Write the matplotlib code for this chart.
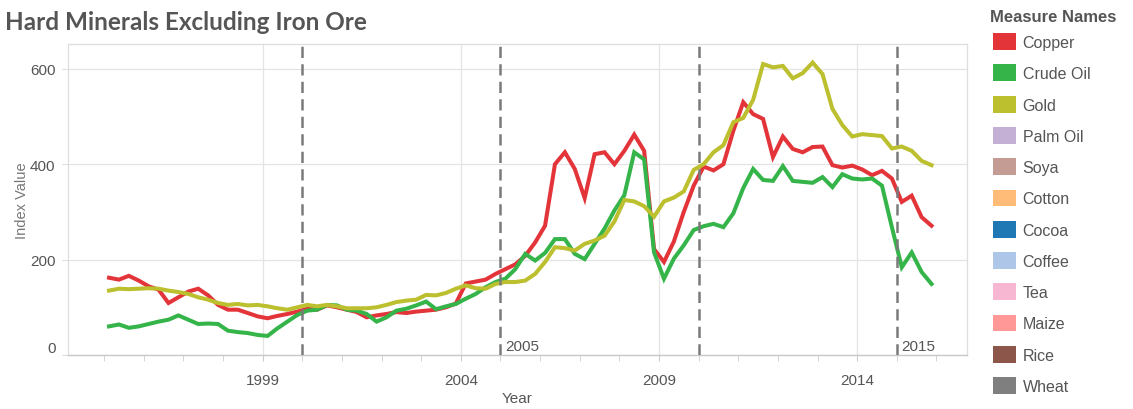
import numpy as np
import matplotlib
matplotlib.use("Agg")
import matplotlib.pyplot as plt
from matplotlib.patches import Patch

# ---------------- data (quarterly index values) ----------------
copper = [162, 158, 166, 156, 144, 137, 109, 121, 133, 139, 125, 105, 95, 95, 88, 81,
          77, 82, 86, 91, 97, 95, 104, 100, 95, 90, 79, 83, 86, 90, 88, 91,
          93, 95, 100, 108, 150, 154, 158, 170, 180, 190, 208, 236, 271, 400, 425, 390,
          329, 421, 425, 400, 428, 462, 428, 222, 195, 238, 300, 355, 395, 387, 400, 470,
          530, 505, 495, 415, 458, 432, 425, 436, 437, 398, 393, 397, 389, 377, 386, 370,
          321, 334, 289, 271]
crude_oil = [60, 64, 57, 60, 65, 70, 74, 83, 74, 65, 66, 65, 51, 48, 46, 42,
             40, 56, 70, 84, 93, 95, 105, 104, 95, 93, 86, 70, 79, 93, 97, 104,
             112, 96, 102, 107, 118, 128, 142, 153, 160, 180, 212, 198, 214, 243, 243, 212,
             201, 233, 265, 303, 335, 425, 410, 215, 160, 202, 230, 262, 270, 275, 268, 297,
             350, 390, 367, 365, 396, 365, 363, 361, 373, 352, 379, 370, 368, 370, 355, 268,
             184, 215, 174, 149]
gold = [135, 139, 138, 139, 140, 139, 135, 132, 128, 121, 116, 109, 105, 107, 104, 105,
        102, 98, 95, 100, 105, 102, 105, 102, 98, 98, 98, 100, 105, 111, 114, 116,
        126, 125, 130, 139, 146, 140, 139, 149, 153, 153, 156, 170, 195, 226, 224, 219,
        233, 240, 250, 280, 325, 322, 312, 290, 322, 330, 343, 388, 400, 425, 440, 488,
        497, 535, 610, 603, 606, 580, 591, 613, 589, 516, 482, 458, 463, 461, 459, 433,
        437, 428, 407, 398]
first_quarter = 1995.125
quarter_step = 0.25

legend_names = ["Copper", "Crude Oil", "Gold", "Palm Oil", "Soya", "Cotton",
                "Cocoa", "Coffee", "Tea", "Maize", "Rice", "Wheat"]
legend_colors = ["#e3343a", "#35b44a", "#bcbf2e", "#c5b0d5", "#c49c94", "#ffbb78",
                 "#1f77b4", "#aec7e8", "#f7b6d2", "#ff9896", "#8c564b", "#7f7f7f"]

x_tick_years = [1999, 2004, 2009, 2014]
minor_years = list(range(1995, 2017))
y_ticks = [0, 200, 400, 600]
marker_years = [2000, 2005, 2010, 2015]
marker_labels = ["", "2005", "", "2015"]

# ---------------- figure ----------------
W, H = 1133, 410
fig = plt.figure(figsize=(W / 100, H / 100), dpi=100)
ax = fig.add_axes([68 / W, 1 - 356 / H, (967 - 68) / W, (356 - 45) / H])

t = first_quarter + quarter_step * np.arange(len(copper))
series = [("Copper", copper, legend_colors[0]),
          ("Crude Oil", crude_oil, legend_colors[1]),
          ("Gold", gold, legend_colors[2])]
for name, vals, col in series:
    ax.plot(t, vals, color=col, lw=2.9, solid_joinstyle="miter", zorder=3)

ax.set_xlim(1994.09, 2016.77)
ax.set_ylim(0, 652)

for yr, lab in zip(marker_years, marker_labels):
    ax.axvline(yr, color="#7a7a7a", lw=1.8, ls=(0, (4.5, 2.5)), zorder=4)
    if lab:
        ax.text(yr + 0.12, 5, lab, fontsize=11, color="#555555",
                family="Liberation Sans", ha="left", va="bottom", zorder=5)

ax.set_xticks(x_tick_years)
ax.set_xticks(minor_years, minor=True)
ax.set_yticks(y_ticks)
ax.grid(True, which="major", color="#e4e4e4", lw=0.9, zorder=0)
ax.tick_params(axis="x", which="major", length=4, color="#cccccc",
               labelsize=11, labelcolor="#555555", pad=9)
ax.tick_params(axis="x", which="minor", length=4, color="#cccccc")
ax.tick_params(axis="y", length=4, color="#dddddd", labelsize=11,
               labelcolor="#555555", pad=5)
for lab in ax.get_xticklabels() + ax.get_yticklabels():
    lab.set_family("Liberation Sans")
ax.get_yticklabels()[0].set_va("bottom")

for s in ["top", "right", "left"]:
    ax.spines[s].set_color("#dedede")
    ax.spines[s].set_linewidth(0.9)
ax.spines["bottom"].set_color("#c8c8c8")
ax.spines["bottom"].set_linewidth(1.0)

ax.set_xlabel("Year", fontsize=11, color="#555555", family="Liberation Sans", labelpad=3)
ax.set_ylabel("Index Value", fontsize=10.5, color="#777777", family="Liberation Sans",
              labelpad=1)

fig.text(5 / W, 1 - 22 / H, "Hard Minerals Excluding Iron Ore", fontsize=17.5,
         fontweight="bold", color="#555555", family="Lato", ha="left", va="center")

fig.text(990 / W, 1 - 18 / H, "Measure Names", fontsize=12, fontweight="bold",
         color="#555555", family="Liberation Sans", ha="left", va="center")

handles = [Patch(facecolor=c, edgecolor="none") for c in legend_colors]
leg = fig.legend(handles, legend_names, loc="upper left",
                 bbox_to_anchor=(990 / W, 1 - 31 / H), frameon=False,
                 prop={"family": "Liberation Sans", "size": 11.5},
                 handlelength=1.4, handleheight=1.25, handletextpad=0.45,
                 labelspacing=0.9, borderaxespad=0, borderpad=0.2)
for txt in leg.get_texts():
    txt.set_color("#555555")

fig.savefig("out.png", dpi=100)
